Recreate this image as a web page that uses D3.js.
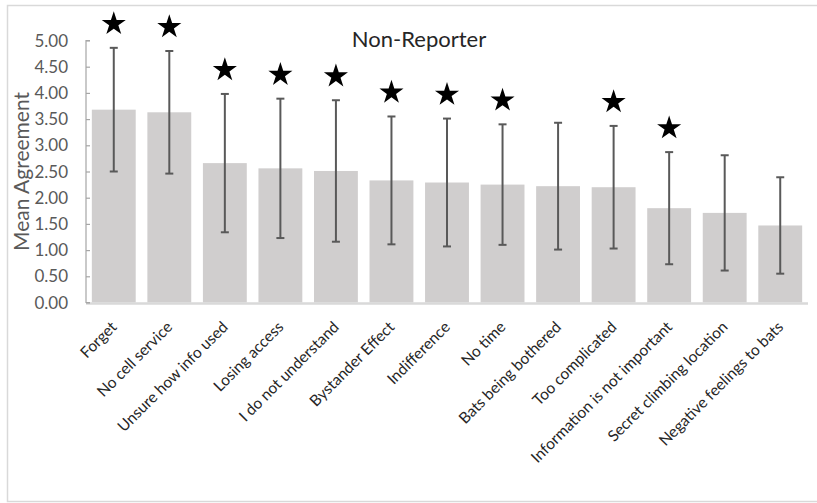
<!DOCTYPE html>
<html>
<head>
<meta charset="utf-8">
<script src="https://cdn.jsdelivr.net/npm/d3@7"></script>
<style>
  html, body { margin: 0; padding: 0; background: #fff; }
  svg { display: block; font-family: Lato, "Open Sans", sans-serif; }
</style>
</head>
<body>
<svg id="chart" width="817" height="503"></svg>
<script>
// Reasons for not reporting: mean agreement and standard deviation
const categories = [
  "Forget", "No cell service", "Unsure how info used", "Losing access",
  "I do not understand", "Bystander Effect", "Indifference", "No time",
  "Bats being bothered", "Too complicated", "Information is not important",
  "Secret climbing location", "Negative feelings to bats"
];
const means = [3.68, 3.63, 2.66, 2.56, 2.51, 2.33, 2.29, 2.25, 2.22, 2.20, 1.80, 1.71, 1.47];
const sds   = [1.18, 1.17, 1.32, 1.33, 1.35, 1.22, 1.22, 1.15, 1.21, 1.17, 1.07, 1.10, 0.92];
const significant = [true, true, true, true, true, true, true, true, false, true, true, false, false];
const yTicks = [0, 0.5, 1, 1.5, 2, 2.5, 3, 3.5, 4, 4.5, 5];

const svg = d3.select("#chart");

// outer frame
svg.append("rect")
  .attr("x", 7.5).attr("y", 5.5)
  .attr("width", 830).attr("height", 496)
  .attr("fill", "none").attr("stroke", "#d9d9d9").attr("stroke-width", 1.5);

const plotLeft = 86, plotRight = 808, plotTop = 40.5, plotBottom = 302.5;

const x = d3.scaleBand()
  .domain(categories)
  .range([plotLeft, plotRight])
  .paddingInner(0.21)
  .paddingOuter(0.105);

const y = d3.scaleLinear().domain([0, 5]).range([plotBottom, plotTop]);

// bars
svg.append("g").selectAll("rect")
  .data(categories)
  .join("rect")
  .attr("x", d => x(d))
  .attr("width", x.bandwidth())
  .attr("y", (d, i) => y(means[i]))
  .attr("height", (d, i) => y(0) - y(means[i]))
  .attr("fill", "#d0cece");

// baseline
svg.append("line")
  .attr("x1", plotLeft).attr("x2", plotRight)
  .attr("y1", plotBottom + 1).attr("y2", plotBottom + 1)
  .attr("stroke", "#d9d9d9").attr("stroke-width", 2.5);

// y axis with inward ticks
const yAxis = d3.axisRight(y)
  .tickValues(yTicks)
  .tickSize(4)
  .tickFormat("");
const gy = svg.append("g").attr("transform", `translate(${plotLeft},0)`).call(yAxis);
gy.selectAll("path, line").attr("stroke", "#a6a6a6").attr("stroke-width", 1.2);
gy.select(".domain").attr("d", `M4,${y(5)}H0V${y(0)}H4`);

// y tick labels
svg.append("g").selectAll("text")
  .data(yTicks)
  .join("text")
  .attr("x", plotLeft - 18)
  .attr("y", d => y(d))
  .attr("dy", "0.36em")
  .attr("text-anchor", "end")
  .attr("fill", "#595959")
  .attr("font-size", 17)
  .text(d => d3.format(".2f")(d));

// y axis title
svg.append("text")
  .attr("transform", `translate(29,${(plotTop + plotBottom) / 2}) rotate(-90)`)
  .attr("text-anchor", "middle")
  .attr("fill", "#595959")
  .attr("font-size", 21)
  .text("Mean Agreement");

// error bars (mean ± sd)
const err = svg.append("g").attr("stroke", "#595959").attr("stroke-width", 2);
categories.forEach((c, i) => {
  const cx = x(c) + x.bandwidth() / 2;
  const hi = y(means[i] + sds[i]), lo = y(means[i] - sds[i]);
  err.append("line").attr("x1", cx).attr("x2", cx).attr("y1", hi).attr("y2", lo);
  err.append("line").attr("x1", cx - 4).attr("x2", cx + 4).attr("y1", hi).attr("y2", hi);
  err.append("line").attr("x1", cx - 4).attr("x2", cx + 4).attr("y1", lo).attr("y2", lo);
});

// significance stars
const star = d3.symbol().type(d3.symbolStar).size(180);
svg.append("g").selectAll("path")
  .data(categories.filter((c, i) => significant[i]))
  .join("path")
  .attr("d", star)
  .attr("fill", "#000")
  .attr("transform", d => {
    const i = categories.indexOf(d);
    return `translate(${x(d) + x.bandwidth() / 2},${y(means[i] + sds[i]) - 24})`;
  });

// category labels
svg.append("g").selectAll("text")
  .data(categories)
  .join("text")
  .attr("transform", d => `translate(${x(d) + x.bandwidth() / 2 + 4},328) rotate(-45)`)
  .attr("text-anchor", "end")
  .attr("fill", "#262626")
  .attr("font-size", 15.5)
  .text(d => d);

// title
svg.append("text")
  .attr("x", 419).attr("y", 47)
  .attr("text-anchor", "middle")
  .attr("fill", "#262626")
  .attr("font-size", 22)
  .text("Non-Reporter");
</script>
</body>
</html>
